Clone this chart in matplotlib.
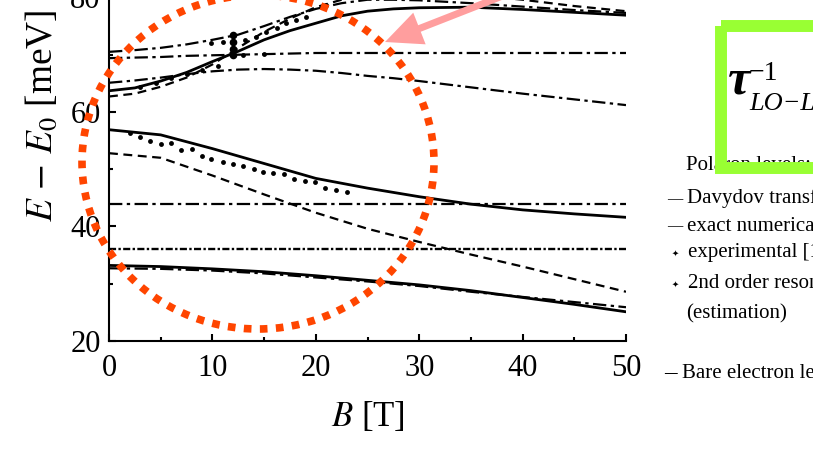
import numpy as np
import matplotlib.pyplot as plt
from matplotlib.patches import Ellipse, Rectangle, FancyArrow

plt.rcParams['font.family'] = ['Liberation Serif', 'DejaVu Serif']
plt.rcParams['mathtext.fontset'] = 'stix'

# magnetic field grids [T]
B = [0, 5, 10, 15, 20, 25, 30, 35, 40, 45, 50]
B_up = [0, 2.5, 5, 7.5, 10, 12.5, 15, 17.5, 20, 22.5, 25, 27.5, 30, 35, 40, 45, 50]

# upper polaron branches [meV]
up_solid = [63.7, 64.2, 65.4, 66.9, 68.8, 70.6, 72.6, 74.2, 75.5, 76.8, 77.6, 78.0, 78.2, 78.3, 77.9, 77.4, 76.9]
up_dashed = [62.7, 63.2, 64.4, 66.0, 68.3, 71.2, 74.0, 76.3, 78.3, 79.6, 80.4, 80.8, 80.9, 80.5, 79.6, 78.5, 77.6]
up_dashdot = [70.5, 70.8, 71.2, 71.8, 72.6, 73.5, 75.0, 76.6, 78.0, 79.0, 79.6, 79.6, 79.5, 79.0, 78.4, 77.8, 77.3]
flat_70 = [69.4, 69.5, 69.6, 69.8, 69.9, 70.0, 70.1, 70.2, 70.3, 70.3, 70.3, 70.3, 70.3, 70.3, 70.3, 70.3, 70.3]
mid_dashdot = [65.1, 65.5, 66.0, 66.6, 67.1, 67.4, 67.5, 67.4, 67.2, 66.8, 66.3, 65.9, 65.4, 64.3, 63.2, 62.2, 61.2]

# lower branches [meV]
low_solid = [56.9, 56.0, 53.6, 51.0, 48.4, 46.7, 45.2, 43.9, 42.9, 42.2, 41.6]
low_dashed = [52.8, 52.0, 48.9, 45.6, 42.4, 39.6, 37.3, 35.1, 33.0, 30.8, 28.6]
level_44 = [44.0] * len(B)
level_36 = [36.0] * len(B)
bottom_solid = [33.2, 33.0, 32.6, 32.1, 31.4, 30.6, 29.8, 28.8, 27.6, 26.4, 25.1]
bottom_dashdot = [32.7, 32.6, 32.3, 31.8, 31.1, 30.4, 29.6, 28.6, 27.7, 26.8, 25.9]

# experimental points
exp_B = [2.0, 3.0, 4.0, 5.0, 6.0, 7.0, 8.0, 9.0, 9.9, 11.0, 12.0, 13.0, 14.0, 14.9, 15.9,
         16.9, 17.9, 19.0, 19.9, 20.9, 22.0, 23.0]
exp_E = [56.3, 55.7, 54.9, 54.4, 54.6, 53.4, 53.5, 52.3, 51.7, 51.3, 50.9, 50.6, 50.0, 49.6, 49.4,
         49.2, 48.3, 48.0, 47.8, 46.8, 46.4, 46.0]
exp_up_B = [3.0, 4.5, 6.0, 7.5, 9.0, 10.5, 13.0, 15.0,
            9.9, 11.0, 13.2, 14.2, 15.2, 16.2, 17.1, 18.1, 19.1, 21.0]
exp_up_E = [64.3, 65.0, 65.9, 66.6, 67.3, 68.1, 70.0, 70.1,
            72.0, 72.3, 72.6, 73.1, 74.0, 74.6, 75.5, 76.1, 76.6, 78.7]

# 2nd order resonance estimate
res_B = [12.0, 12.0, 12.0, 12.0]
res_E = [73.4, 72.2, 71.0, 70.0]

W, H = 813, 449
fig = plt.figure(figsize=(W / 100, H / 100), dpi=100)
ax = fig.add_axes([109 / W, 1 - 341 / H, 517 / W, 355 / H])

k = 'black'
ddot = (0, (6, 2, 1.5, 2))
dash = (0, (4, 2.5))
ax.plot(B_up, up_solid, color=k, lw=2.0)
ax.plot(B_up, up_dashed, color=k, lw=1.6, ls=dash)
ax.plot(B_up, up_dashdot, color=k, lw=1.6, ls=ddot)
ax.plot(B_up, flat_70, color=k, lw=1.6, ls=ddot)
ax.plot(B_up, mid_dashdot, color=k, lw=1.6, ls=ddot)
ax.plot(B, low_solid, color=k, lw=2.0)
ax.plot(B, low_dashed, color=k, lw=1.6, ls=dash)
ax.plot(B, level_44, color=k, lw=1.6, ls=ddot)
ax.plot(B, level_36, color=k, lw=1.7, ls=(0, (3, 1, 1, 1)))
ax.plot(B, bottom_dashdot, color=k, lw=1.6, ls=ddot)
ax.plot(B, bottom_solid, color=k, lw=2.0)
ax.plot(exp_B, exp_E, 'o', color=k, ms=3.5, mew=0)
ax.plot(exp_up_B, exp_up_E, 'o', color=k, ms=3.5, mew=0)
ax.plot(res_B, res_E, 'o', color=k, ms=5.5, mew=0)

ax.set_xlim(0, 50)
ax.set_ylim(20, 82)
for s in ['top', 'right']:
    ax.spines[s].set_visible(False)
for s in ['left', 'bottom']:
    ax.spines[s].set_linewidth(1.5)
ax.set_xticks(range(0, 51, 10))
ax.set_xticks(range(5, 50, 10), minor=True)
ax.set_yticks([20, 40, 60, 80])
ax.set_yticks([30, 50, 70], minor=True)
ax.tick_params(which='both', direction='in', width=1.5, labelsize=22)
ax.tick_params(which='major', length=5)
ax.tick_params(which='minor', length=3)
ax.tick_params(axis='x', pad=9)
ax.tick_params(axis='y', pad=6)
ax.set_xlabel(r'$B$ [T]', fontsize=25)
ax.set_ylabel(r'$E\,-\,E_0$ [meV]', fontsize=27)
ax.xaxis.set_label_coords(0.5, -0.165)
ax.yaxis.set_label_coords(-0.095, 0.634)

# overlay in pixel coordinates for the slide decorations
ov = fig.add_axes([0, 0, 1, 1])
ov.set_xlim(0, W)
ov.set_ylim(H, 0)
ov.axis('off')
ov.patch.set_alpha(0)

ov.add_patch(Ellipse((258, 162), 352, 334, fill=False, ec='#FF4500', lw=5.5,
                     ls=(0, (1, 1.1)), zorder=4))
ov.add_patch(FancyArrow(505, -5, 385 - 505, 42 + 5, width=7, head_width=34,
                        head_length=37, length_includes_head=True,
                        color='#FF9E9E', lw=0, zorder=4))

fs = 15
ov.text(686, 170, 'Polaron levels:', fontsize=fs, va='baseline')
ov.text(667, 203, '—', fontsize=11, va='baseline')
ov.text(687, 203, 'Davydov transformation', fontsize=fs, va='baseline')
ov.text(667, 230, '—', fontsize=11, va='baseline')
ov.text(687, 230, 'exact numerical [9]', fontsize=fs, va='baseline')
ov.text(672, 256, '✦', fontsize=6, va='baseline', family='DejaVu Sans')
ov.text(688, 257, 'experimental [10]', fontsize=fs, va='baseline')
ov.text(672, 287, '✦', fontsize=6, va='baseline', family='DejaVu Sans')
ov.text(688, 288, '2nd order resonance', fontsize=fs, va='baseline')
ov.text(686, 318, '(estimation)', fontsize=fs, va='baseline')
ov.text(664, 378, '–', fontsize=18, va='baseline')
ov.text(682, 378, 'Bare electron levels', fontsize=fs, va='baseline')

ov.text(728, 93, 'τ', fontsize=36, fontweight='bold', fontstyle='italic', va='baseline')
ov.text(749, 80, '−1', fontsize=20, va='baseline')
ov.text(749, 110, 'LO−LA', fontsize=19, fontstyle='italic', va='baseline')
ov.add_patch(Rectangle((721, 25.5), 200, 142.5, fill=False, ec='#99FF33', lw=8.6,
                       zorder=5))

fig.savefig('out.png', dpi=100)
